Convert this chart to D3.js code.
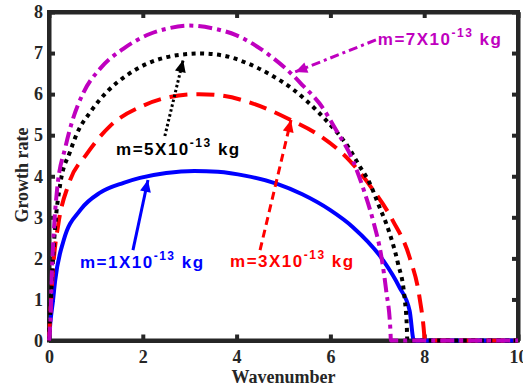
<!DOCTYPE html>
<html>
<head>
<meta charset="utf-8">
<script src="https://cdn.jsdelivr.net/npm/d3@7"></script>
<style>
  body { margin: 0; background: #fff; }
  svg { display: block; }
</style>
</head>
<body>
<div class="chart"></div>
<script>
// growth rate vs wavenumber
var k1 = [0, 0.03, 0.085, 0.13, 0.31, 0.67, 1.09, 1.59, 1.94, 2.5, 3.1, 3.6, 4.2, 4.85, 5.4, 5.99, 6.48, 7.12, 7.47, 7.69, 7.78, 10];
var g1 = [0, 0.45, 0.97, 1.45, 2.43, 3.18, 3.6, 3.84, 3.96, 4.08, 4.13, 4.11, 4.01, 3.82, 3.56, 3.18, 2.76, 1.96, 1.3, 0.72, 0, 0];

var k3 = [0, 0.04, 0.10, 0.20, 0.42, 0.81, 1.30, 2.01, 2.58, 3.2, 3.64, 4.35, 5.10, 5.77, 6.41, 6.87, 7.33, 7.69, 7.90, 8.0, 8.01, 10];
var g3 = [0, 0.9, 1.94, 2.84, 3.81, 4.55, 5.22, 5.72, 5.93, 6.0, 5.97, 5.77, 5.40, 4.99, 4.38, 3.73, 2.92, 2.02, 1.05, 0.15, 0, 0];

var k5 = [0, 0.03, 0.06, 0.13, 0.24, 0.45, 0.60, 0.88, 1.23, 1.66, 2.09, 2.51, 3.0, 3.22, 3.71, 4.21, 4.71, 5.2, 5.49, 5.91, 6.41, 6.62, 6.84, 7.01, 7.26, 7.44, 7.58, 7.63, 7.64, 10];
var g5 = [0, 0.8, 1.45, 2.76, 3.81, 4.6, 5.05, 5.56, 6.05, 6.46, 6.74, 6.90, 6.98, 6.99, 6.94, 6.76, 6.48, 6.12, 5.84, 5.36, 4.66, 4.25, 3.83, 3.35, 2.62, 1.88, 1.05, 0.32, 0, 0];

var k7 = [0, 0.03, 0.06, 0.10, 0.17, 0.35, 0.49, 0.74, 1.09, 1.59, 2.16, 2.54, 3.0, 3.5, 4.0, 4.71, 5.2, 5.42, 5.77, 6.13, 6.48, 6.73, 6.91, 7.09, 7.19, 7.28, 7.29, 10];
var g7 = [0, 0.48, 1.62, 2.6, 3.65, 4.71, 5.32, 6.05, 6.62, 7.11, 7.47, 7.60, 7.67, 7.6, 7.43, 6.94, 6.46, 6.2, 5.77, 5.11, 4.38, 3.6, 2.92, 2.02, 1.21, 0.24, 0, 0];

var xTicks = [0, 2, 4, 6, 8, 10];
var yTicks = [0, 1, 2, 3, 4, 5, 6, 7, 8];

var masses = ["1", "3", "5", "7"];

var w = 523, h = 389;
var padL = 49, padR = 518, padT = 12, padB = 340.5;
var axisColor = "#262626";

var series = [
    {k: k1, g: g1, color: "#0000ff", dash: null},
    {k: k3, g: g3, color: "#ff0000", dash: "18,9"},
    {k: k5, g: g5, color: "#000000", dash: "4,4.5"},
    {k: k7, g: g7, color: "#bf00bf", dash: "14,5,4,5"}
];

// annotation anchors in data units: text spot, arrow start, arrow tip
var notes = [
    {m: masses[0], color: "#0000ff", dash: null, tx: 0.66, ty: 1.77, x0: 1.79, y0: 2.20, x1: 2.11, y1: 3.91},
    {m: masses[1], color: "#ff0000", dash: "8,5", tx: 3.86, ty: 1.79, x0: 4.50, y0: 2.20, x1: 5.16, y1: 5.37},
    {m: masses[2], color: "#000000", dash: "2.5,2.5", tx: 1.43, ty: 4.52, x0: 2.47, y0: 4.98, x1: 2.86, y1: 6.83},
    {m: masses[3], color: "#bf00bf", dash: "9,4,3,4", tx: 7.01, ty: 7.20, x0: 6.97, y0: 7.32, x1: 5.25, y1: 6.54}
];

var x = d3.scaleLinear().domain([0, 10]).range([padL, padR]);
var y = d3.scaleLinear().domain([0, 8]).range([padB, padT]);

var svg = d3.select(".chart").append("svg")
    .attr("width", w)
    .attr("height", h);

function styleAxis(g) {
    g.attr("color", axisColor);
    g.select(".domain").attr("stroke-width", 4);
    g.selectAll(".tick line").attr("stroke-width", 4);
    g.selectAll(".tick text")
        .attr("fill", "#262626")
        .style("font-family", "'Liberation Serif', 'Times New Roman', serif")
        .style("font-weight", "bold")
        .style("font-size", "18px");
}

svg.append("g")
    .attr("transform", "translate(0," + padB + ")")
    .call(d3.axisBottom(x).tickValues(xTicks).tickSizeInner(-6).tickSizeOuter(0).tickPadding(10))
    .call(styleAxis);

svg.append("g")
    .attr("transform", "translate(0," + padT + ")")
    .call(d3.axisTop(x).tickValues(xTicks).tickSizeInner(-6).tickSizeOuter(0).tickFormat(""))
    .call(styleAxis);

svg.append("g")
    .attr("transform", "translate(" + padL + ",0)")
    .call(d3.axisLeft(y).tickValues(yTicks).tickSizeInner(-6).tickSizeOuter(0).tickPadding(6))
    .call(styleAxis);

svg.append("g")
    .attr("transform", "translate(" + padR + ",0)")
    .call(d3.axisRight(y).tickValues(yTicks).tickSizeInner(-6).tickSizeOuter(0).tickFormat(""))
    .call(styleAxis);

// square off the frame corners
svg.append("rect")
    .attr("x", padL)
    .attr("y", padT)
    .attr("width", padR - padL)
    .attr("height", padB - padT)
    .attr("fill", "none")
    .attr("stroke", axisColor)
    .attr("stroke-width", 4);

var line = d3.line()
    .x(function(d) { return x(d[0]); })
    .y(function(d) { return y(d[1]); })
    .curve(d3.curveMonotoneX);

svg.append("g").selectAll("path")
    .data(series)
    .enter().append("path")
    .attr("d", function(s) { return line(d3.zip(s.k, s.g)); })
    .attr("fill", "none")
    .attr("stroke", function(s) { return s.color; })
    .attr("stroke-width", 4)
    .attr("stroke-dasharray", function(s) { return s.dash; });

// annotations
var ann = svg.append("g").selectAll("g")
    .data(notes)
    .enter().append("g");

ann.append("line")
    .attr("x1", function(d) { return x(d.x0); })
    .attr("y1", function(d) { return y(d.y0); })
    .attr("x2", function(d) { return x(d.x1); })
    .attr("y2", function(d) { return y(d.y1); })
    .attr("stroke", function(d) { return d.color; })
    .attr("stroke-width", 3)
    .attr("stroke-dasharray", function(d) { return d.dash; });

ann.append("path")
    .attr("fill", function(d) { return d.color; })
    .attr("d", function(d) {
        var ax = x(d.x0), ay = y(d.y0), bx = x(d.x1), by = y(d.y1);
        var dx = bx - ax, dy = by - ay, len = Math.sqrt(dx * dx + dy * dy);
        var ux = dx / len, uy = dy / len;
        var L = 12, W = 5.5;
        var cx = bx - ux * L, cy = by - uy * L;
        return "M" + bx + "," + by +
            "L" + (cx - uy * W) + "," + (cy + ux * W) +
            "L" + (cx + uy * W) + "," + (cy - ux * W) + "Z";
    });

var label = ann.append("text")
    .attr("x", function(d) { return x(d.tx); })
    .attr("y", function(d) { return y(d.ty); })
    .attr("fill", function(d) { return d.color; })
    .style("font-family", "'Liberation Sans', Arial, sans-serif")
    .style("font-weight", "bold")
    .style("font-size", "17px")
    .style("letter-spacing", "1.5px");

label.append("tspan").text(function(d) { return "m=" + d.m + "X10"; });
label.append("tspan").attr("dy", -8).style("font-size", "12px").text("-13");
label.append("tspan").attr("dy", 8).text(" kg");

svg.append("text")
    .attr("x", (padL + padR) / 2)
    .attr("y", 383)
    .attr("text-anchor", "middle")
    .attr("fill", "#262626")
    .style("font-family", "'Liberation Serif', 'Times New Roman', serif")
    .style("font-weight", "bold")
    .style("font-size", "18px")
    .text("Wavenumber");

svg.append("text")
    .attr("transform", "translate(28,175)rotate(-90)")
    .attr("text-anchor", "middle")
    .attr("fill", "#262626")
    .style("font-family", "'Liberation Serif', 'Times New Roman', serif")
    .style("font-weight", "bold")
    .style("font-size", "18px")
    .text("Growth rate");
</script>
</body>
</html>
